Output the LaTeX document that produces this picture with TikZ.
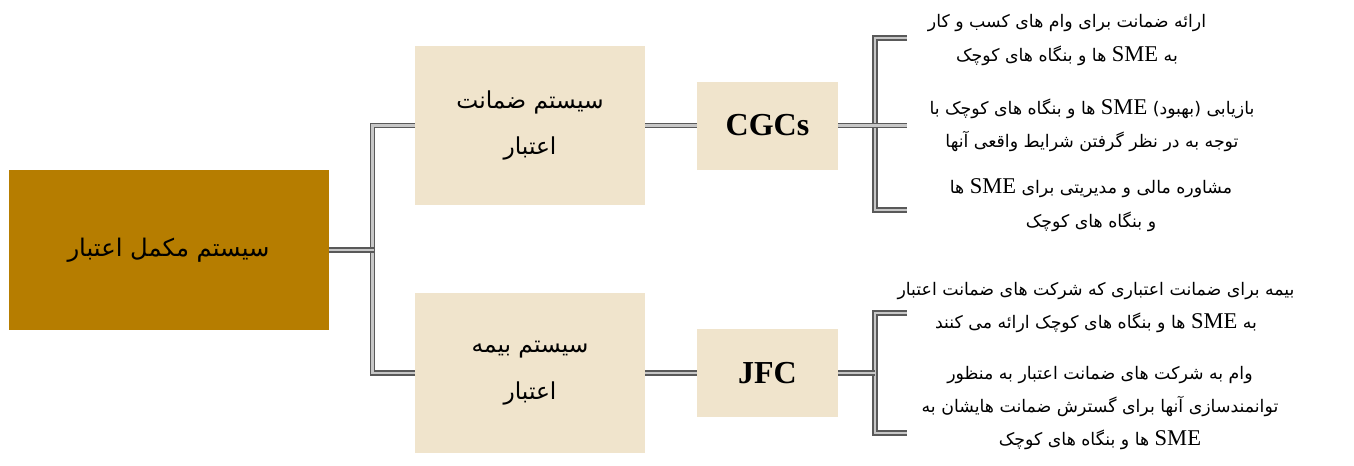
\documentclass[tikz,border=0pt]{standalone}
\usepackage{fontspec}
\setmainfont{Liberation Serif}
\newfontfamily\farsi[Script=Arabic]{DejaVu Sans}
\newfontfamily\smefont[Scale=1.3]{Liberation Serif}
\TeXXeTstate=1
\usepackage{tikz}

\newcommand{\fa}[1]{{\farsi\beginR #1\endR}}
\newcommand{\sme}{\beginL{\smefont SME}\endL}

\definecolor{gold}{HTML}{B67D00}
\definecolor{sand}{HTML}{F0E4CC}

\tikzset{
  rootbox/.style={fill=gold, minimum width=240pt, minimum height=120pt, inner sep=0pt,
    font=\fontsize{18.2}{24}\selectfont},
  sysbox/.style={fill=sand, minimum width=172.5pt, minimum height=119.5pt, inner sep=0pt, align=center,
    font=\fontsize{17.5}{35}\selectfont},
  orgbox/.style={fill=sand, minimum width=105.75pt, minimum height=66pt, inner sep=0pt,
    font=\fontsize{24}{28}\selectfont\bfseries},
  leaf/.style={align=center, inner sep=0pt, font=\fontsize{13}{25}\selectfont},
  link/.style={draw=black!65, line width=1pt, double=black!22, double distance=2pt}
}

\begin{document}
\begin{tikzpicture}[x=0.75pt,y=-0.75pt]
\useasboundingbox (0,0) rectangle (1354,465);

\node[rootbox] (root) at (168.5,250) {\fa{سیستم مکمل اعتبار}};

\node[sysbox] (guar) at (530,125.5) {\fa{سیستم ضمانت}\\\fa{اعتبار}};
\node[sysbox] (insur) at (530,373) {\fa{سیستم بیمه}\\\fa{اعتبار}};

\node[orgbox] (cgc) at (767.5,125.5) {CGCs};
\node[orgbox] (jfc) at (767.5,373) {JFC};

\node[leaf] (t1) at (1067,40) {\fa{ارائه ضمانت برای وام های کسب و کار}\\\fa{به \sme{} ها و بنگاه های کوچک}};
\node[leaf] (t2) at (1092,125.5) {\fa{بازیابی (بهبود) \sme{} ها و بنگاه های کوچک با}\\\fa{توجه به در نظر گرفتن شرایط واقعی آنها}};
\node[leaf] (t3) at (1091,205) {\fa{مشاوره مالی و مدیریتی برای \sme{} ها}\\\fa{و بنگاه های کوچک}};
\node[leaf] (t4) at (1096,307.5) {\fa{بیمه برای ضمانت اعتباری که شرکت های ضمانت اعتبار}\\\fa{به \sme{} ها و بنگاه های کوچک ارائه می کنند}};
\node[leaf] (t5) at (1100,408) {\fa{وام به شرکت های ضمانت اعتبار به منظور}\\\fa{توانمندسازی آنها برای گسترش ضمانت هایشان به}\\\fa{\sme{} ها و بنگاه های کوچک}};

\coordinate (tip1) at (907,38);
\coordinate (tip2) at (907,125.5);
\coordinate (tip3) at (907,210);
\coordinate (tip4) at (907,313);
\coordinate (tip5) at (907,433);

\draw[link] (guar.west) -- ++(-42,0) |- (insur.west);
\draw[link] (root.east) -- ++(45,0);

\draw[link] (guar.east) -- (cgc.west);
\draw[link] (insur.east) -- (jfc.west);

\draw[link] (tip1) -- ++(-32,0) |- (tip3);
\draw[link] (cgc.east) -- (tip2);

\draw[link] (tip4) -- ++(-32,0) |- (tip5);
\draw[link] (jfc.east) -- ++(37,0);

\end{tikzpicture}
\end{document}
